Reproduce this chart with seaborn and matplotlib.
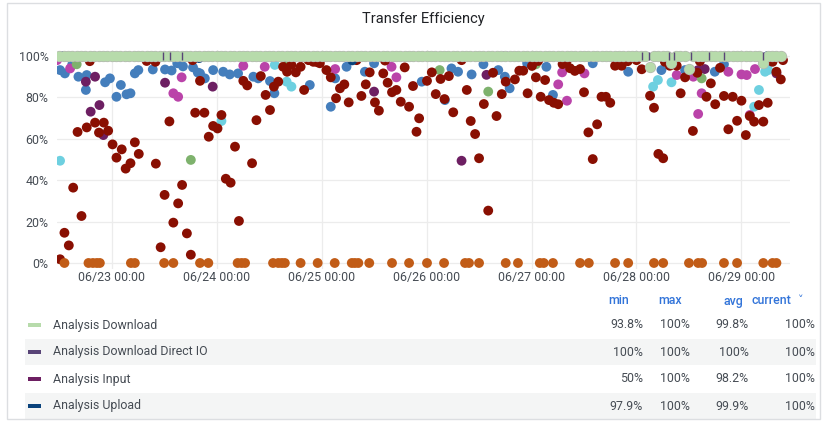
import matplotlib
matplotlib.use("Agg")
import matplotlib.pyplot as plt
import matplotlib.dates as mdates
from matplotlib.patches import Rectangle
import pandas as pd
import seaborn as sns

# ---------------- data (hours relative to 06/23 00:00, value in %) ----------------
base_time = "2023-06-23 00:00"

dark_red_hours = [-11.8, -10.8, -9.8, -8.8, -7.8, -6.9, -5.7, -3.8, -2.9, -1.8, -0.8, 0.2, 1.1, 2.3, 3.2,
                  4.3, 5.3, 6.2, 10.1, 11.2, 12.1, 13.2, 14.1, 15.2, 16.1, 17.2, 18.1, 19.1, 20.2, 21.2,
                  22.2, 23.2, 24.2, 25.1, 26.1, 27.2, 28.2, 29.1, 30.1, 31.0, 32.1, 33.1, 34.1, 35.2,
                  36.2, 37.1, 38.1, 39.2, 40.1, 41.1, 42.1, 43.2, 44.0, 46.1, 47.6, 49.1, 50.1, 51.3,
                  52.2, 53.2, 54.2, 57.1, 58.1, 59.0, 60.2, 61.1, 62.1, 63.1, 64.1, 65.1, 66.1, 67.0,
                  68.0, 68.9, 69.7, 70.3, 72.1, 73.2, 74.1, 75.2, 76.1, 77.1, 78.1, 81.2, 82.1, 83.1,
                  84.0, 85.1, 86.1, 87.2, 88.0, 89.2, 90.1, 92.2, 93.2, 94.1, 95.1, 96.1, 97.0, 98.1,
                  99.1, 100.0, 101.1, 102.1, 103.1, 104.8, 105.9, 107.1, 108.0, 109.0, 110.0, 111.0,
                  112.0, 113.0, 114.0, 115.1, 116.6, 121.2, 123.1, 124.0, 125.0, 126.1, 127.6, 129.2,
                  130.1, 131.1, 132.9, 133.9, 136.0, 137.0, 138.0, 139.1, 140.0, 141.0, 142.0, 143.0,
                  144.0, 145.0, 145.9, 146.9, 148.0, 149.0, 150.0, 151.1, 152.0, 153.0,
                  -5.0, 8.0, 10.0, 18.5, 45.0, 47.0, 56.0, 62.5, 80.0, 97.5, 104.0, 118.0, 120.0,
                  126.5, 134.5, 153.5]
dark_red_values = [1.8, 14.6, 8.5, 36.4, 63.3, 22.7, 65.5, 67.8, 63.0, 67.8, 63.9, 57.3, 50.9, 54.9, 45.6,
                   48.2, 58.3, 52.7, 48.0, 7.6, 32.9, 68.4, 19.5, 28.8, 37.7, 14.3, 4.0, 72.6, 88.0, 72.6,
                   61.0, 66.2, 65.0, 71.5, 40.7, 38.8, 56.2, 20.3, 88.0, 85.8, 48.2, 69.0, 90.3, 81.2,
                   73.9, 85.2, 87.6, 94.8, 92.4, 95.7, 92.1, 94.8, 83.6, 97.2, 96.5, 93.2, 89.7, 79.6,
                   84.4, 86.3, 77.6, 80.7, 86.3, 92.1, 77.6, 73.6, 91.6, 87.1, 82.5, 83.6, 77.9, 94.5,
                   75.5, 85.5, 63.4, 69.9, 88.0, 92.1, 81.6, 88.9, 79.2, 90.3, 72.8, 83.6, 68.6, 62.3,
                   50.6, 76.8, 25.3, 91.9, 71.0, 81.6, 87.6, 88.7, 92.9, 92.9, 82.0, 95.2, 89.7, 80.3,
                   88.4, 78.7, 77.4, 76.7, 96.1, 94.1, 92.8, 93.7, 82.5, 63.1, 50.2, 67.0,
                   80.3, 80.3, 77.4, 95.3, 95.3, 93.6, 80.8, 75.0, 52.7, 50.6, 95.3, 95.3,
                   82.0, 89.7, 63.8, 91.9, 80.3, 86.8, 76.7, 94.3, 80.7, 64.6, 80.3, 68.7,
                   78.4, 61.8, 71.0, 68.3, 76.3, 68.3, 77.4, 97.2, 92.4, 88.7,
                   97.5, 97.6, 97.2, 98.0, 98.0, 97.0, 98.0, 97.8, 98.0, 97.6, 97.4, 97.5, 98.0,
                   97.2, 97.5, 98.0]

orange_hours = [-10.8, -5.3, -4.3, -3.4, -2.7, 4.4, 5.3, 12.0, 14.1, 20.2, 22.1, 28.8, 29.7, 30.5, 36.9,
                38.1, 38.9, 39.6, 43.2, 47.1, 51.0, 54.9, 55.6, 56.4, 58.9, 64.1, 68.0, 72.1, 76.0,
                80.8, 81.7, 84.0, 90.1, 92.9, 97.9, 98.8, 100.9, 107.1, 109.1, 115.1, 118.1, 124.0,
                126.1, 132.0, 134.1, 135.0, 140.0, 143.0, 149.0, 151.1, 152.0]
orange_values = [0.0] * len(orange_hours)

blue_hours = [-11.8, -10.7, -7.6, -5.9, -5.7, -1.5, -0.4, 1.1, 2.1, 3.4, 4.3, 5.3, 6.1, 9.4, 12.2, 13.7,
              16.3, 18.6, 19.7, 20.2, 21.3, 23.2, 25.5, 27.0, 28.9, 32.4, 33.5, 36.2, 37.2, 45.3, 50.1,
              51.1, 53.7, 57.9, 70.9, 76.2, 77.7, 79.2, 82.3, 88.4, 89.9, 91.0, 99.4, 100.9, 118.1,
              125.7, 131.1, 137.9, -9.0, 15.0, 40.0, 60.0, 85.0, 95.0, 110.0, 140.0, 150.0]
blue_values = [93.2, 91.6, 90.0, 83.6, 90.8, 87.3, 89.2, 80.3, 86.0, 81.5, 82.0, 91.6, 93.2, 93.5, 93.5, 93.0,
               95.0, 94.5, 92.0, 91.6, 89.2, 93.2, 92.4, 91.1, 91.6, 90.0, 89.2, 87.9, 82.0, 86.0, 75.5,
               89.2, 94.8, 92.4, 87.6, 78.7, 94.0, 92.4, 91.1, 93.2, 90.0, 84.4, 94.8, 81.2, 92.4,
               93.2, 93.2, 92.4, 96.0, 96.5, 96.0, 96.5, 96.0, 96.5, 96.5, 96.0, 97.0]

cyan_hours = [-11.8, 25.1, 37.3, 40.0, 41.1, 123.8, 124.9, 128.0, 146.9, 148.0, 149.4, 150.1]
cyan_values = [49.4, 68.6, 95.7, 87.6, 85.2, 85.2, 88.4, 87.3, 75.5, 83.6, 92.4, 93.2]

magenta_hours = [-12.5, -9.5, 14.1, 15.2, 16.0, 30.1, 35.0, 51.1, 64.0, 65.1, 102.1, 103.0, 104.1, 108.1,
                 129.2, 133.0, 134.1, 134.9, 141.0, 144.0, 145.2, 145.9, 147.1]
magenta_values = [98.0, 94.0, 82.0, 80.3, 89.7, 95.3, 94.8, 93.7, 94.8, 89.7, 86.3, 92.1, 78.4, 91.6,
                  90.8, 90.0, 72.0, 82.0, 92.4, 91.1, 90.8, 71.5, 93.7]

input_hours = [-5.9, -4.8, -3.8, -2.8, -1.9, 12.2, 23.1, 60.0, 80.0, 85.7, 134.1, 135.6, 152.0]
input_values = [87.6, 73.1, 90.0, 76.3, 61.8, 87.1, 85.2, 82.8, 49.4, 90.9, 93.2, 93.7, 91.6]

green_hours = [18.1, 75.0, 86.1, 134.9, -8.0, 40.0, 97.0]
green_values = [49.8, 93.2, 82.8, 89.2, 96.0, 96.0, 96.0]

upload_hours = [-11.0, 20.0, 55.0, 90.0, 120.0, 150.0]
upload_values = [100.0, 99.0, 97.9, 100.0, 99.5, 100.0]

direct_io_hours = [11.8, 13.4, 16.0, 121.3, 122.9, 127.5, 128.5, 132.5, 136.5, 140.0, 149.0]
direct_io_values = [100.0] * len(direct_io_hours)

# Analysis Download: hourly samples from 06/22 12:00
download_start = -12
download_values = [
    100, 100, 100, 100, 100, 100, 100, 100, 100, 100, 100, 100, 100, 100, 100, 100, 100, 100, 100, 100, 100, 100, 100, 100,
    100, 100, 100, 100, 100, 100, 100, 100, 100, 100, 100, 100, 100, 100, 100, 100, 100, 100, 100, 100, 100, 100, 100, 100,
    100, 100, 100, 100, 100, 100, 100, 100, 100, 100, 100, 100, 100, 100, 100, 100, 100, 100, 100, 100, 100, 100, 100, 100,
    100, 100, 100, 100, 100, 100, 100, 100, 100, 100, 100, 100, 100, 100, 100, 100, 100, 100, 100, 100, 100, 100, 100, 100,
    100, 100, 100, 100, 100, 100, 100, 100, 100, 100, 100, 100, 100, 100, 100, 100, 100, 100, 100, 100, 100, 100, 100, 100,
    100, 100, 100, 100, 100, 100, 100, 100, 100, 100, 100, 100, 100, 100, 100, 94.5, 100, 100, 100, 100, 96.5, 100, 100, 100,
    93.8, 100, 100, 100, 100, 100, 100, 100, 100, 100, 100, 100, 100, 100, 100, 100, 100, 96.5, 100, 100, 100, 100,
]

legend_names = ["Analysis Download", "Analysis Download Direct IO", "Analysis Input", "Analysis Upload"]
legend_colors = ["#B7DBAB", "#584477", "#6D1F62", "#0A437C"]
legend_min = ["93.8%", "100%", "50%", "97.9%"]
legend_max = ["100%", "100%", "100%", "100%"]
legend_avg = ["99.8%", "100%", "98.2%", "99.9%"]
legend_current = ["100%", "100%", "100%", "100%"]

y_ticks = [0, 20, 40, 60, 80, 100]
y_tick_labels = ["0%", "20%", "40%", "60%", "80%", "100%"]

# ---------------- build long-form frame (draw order = row order) ----------------
series = [
    ("Upload (other)", blue_hours, blue_values, "#447EBC"),
    ("Cyan", cyan_hours, cyan_values, "#6ED0E0"),
    ("Magenta", magenta_hours, magenta_values, "#BA43A9"),
    ("Analysis Input", input_hours, input_values, "#6D1F62"),
    ("Green", green_hours, green_values, "#7EB26D"),
    ("Dark red", dark_red_hours, dark_red_values, "#890F02"),
    ("Orange", orange_hours, orange_values, "#C15C17"),
    ("Analysis Upload", upload_hours, upload_values, "#0A437C"),
]
t0 = pd.Timestamp(base_time)
frames = []
palette = {}
for name, hrs, vals, col in series:
    frames.append(pd.DataFrame({"time": t0 + pd.to_timedelta(hrs, unit="h"), "value": vals, "series": name}))
    palette[name] = col
df = pd.concat(frames, ignore_index=True)

dl = pd.DataFrame({
    "time": t0 + pd.to_timedelta([download_start + i for i in range(len(download_values))], unit="h"),
    "value": download_values,
})

# ---------------- figure ----------------
sns.set_theme(style="white")
plt.rcParams["font.family"] = ["Roboto", "DejaVu Sans"]
W, H = 834, 425
fig = plt.figure(figsize=(W / 100, H / 100), dpi=100)
fig.patch.set_facecolor("white")

def fx(x):
    return x / W

def fy(y):
    return 1 - y / H

# panel border
fig.patches.append(Rectangle((fx(7), fy(419)), fx(820) - fx(7), fy(3) - fy(419), transform=fig.transFigure,
                             fill=False, edgecolor="#dcdee1", linewidth=1.0))

ax = fig.add_axes([fx(57), fy(269.2), fx(790) - fx(57), fy(49.8) - fy(269.2)])
sns.scatterplot(data=df, x="time", y="value", hue="series", palette=palette, s=50, linewidth=0,
                legend=False, ax=ax, zorder=3)
# Analysis Download band: thin grey outline then fill
sns.scatterplot(data=dl, x="time", y="value", color="#b4b8b0", s=66, linewidth=0,
                legend=False, ax=ax, zorder=4)
sns.scatterplot(data=dl, x="time", y="value", color="#B7DBAB", s=50, linewidth=0,
                legend=False, ax=ax, zorder=5)
dio = pd.DataFrame({"time": t0 + pd.to_timedelta(direct_io_hours, unit="h"), "value": direct_io_values})
sns.scatterplot(data=dio, x="time", y="value", color="#584477", marker="|", s=30, linewidth=1,
                legend=False, ax=ax, zorder=6)

ax.set_xlim(t0 + pd.Timedelta(hours=-12.5), t0 + pd.Timedelta(hours=155.1))
ax.set_ylim(-3, 103)
ax.set_yticks(y_ticks)
ax.set_yticklabels(y_tick_labels)
ax.xaxis.set_major_locator(mdates.DayLocator())
ax.xaxis.set_major_formatter(mdates.DateFormatter("%m/%d %H:%M"))
ax.grid(True, color="#ececec", linewidth=0.9, zorder=0)
ax.set_axisbelow(True)
for s in ax.spines.values():
    s.set_visible(False)
ax.tick_params(axis="both", length=0, labelsize=8.9, colors="#464c54")
ax.tick_params(axis="x", pad=1)
ax.tick_params(axis="y", pad=6)
ax.set_xlabel("")
ax.set_ylabel("")

# title
fig.text(fx(423), fy(19), "Transfer Efficiency", ha="center", va="center", fontsize=10.5, color="#202226")

# legend table
fs = 8.9
hdr_y = fy(301)
hdr_col = "#3274D9"
fig.text(fx(619), hdr_y, "min", ha="center", va="center", fontsize=fs, color=hdr_col, fontweight="medium")
fig.text(fx(670), hdr_y, "max", ha="center", va="center", fontsize=fs, color=hdr_col, fontweight="medium")
fig.text(fx(733), hdr_y, "avg", ha="center", va="center", fontsize=fs, color=hdr_col, fontweight="medium")
fig.text(fx(752), hdr_y, "current", ha="left", va="center", fontsize=fs, color=hdr_col, fontweight="medium")
fig.text(fx(798), fy(300), "˅", ha="left", va="center", fontsize=8, color=hdr_col, family=["DejaVu Sans"])

row_ys = [325, 352, 379, 406]
for i, name in enumerate(legend_names):
    yc = row_ys[i]
    if i % 2 == 1:
        fig.patches.append(Rectangle((fx(25), fy(yc + 13)), fx(816) - fx(25), fy(yc - 13) - fy(yc + 13),
                                     transform=fig.transFigure, facecolor="#f4f5f5", edgecolor="none", zorder=0))
    fig.patches.append(Rectangle((fx(28), fy(yc + 2)), fx(41) - fx(28), fy(yc - 2) - fy(yc + 2),
                                 transform=fig.transFigure, facecolor=legend_colors[i], edgecolor="none"))
    fig.text(fx(53), fy(yc), name, ha="left", va="center", fontsize=fs, color="#464c54")
    fig.text(fx(643), fy(yc), legend_min[i], ha="right", va="center", fontsize=fs, color="#464c54")
    fig.text(fx(690), fy(yc), legend_max[i], ha="right", va="center", fontsize=fs, color="#464c54")
    fig.text(fx(749), fy(yc), legend_avg[i], ha="right", va="center", fontsize=fs, color="#464c54")
    fig.text(fx(815), fy(yc), legend_current[i], ha="right", va="center", fontsize=fs, color="#464c54")

fig.savefig("out.png", dpi=100)
